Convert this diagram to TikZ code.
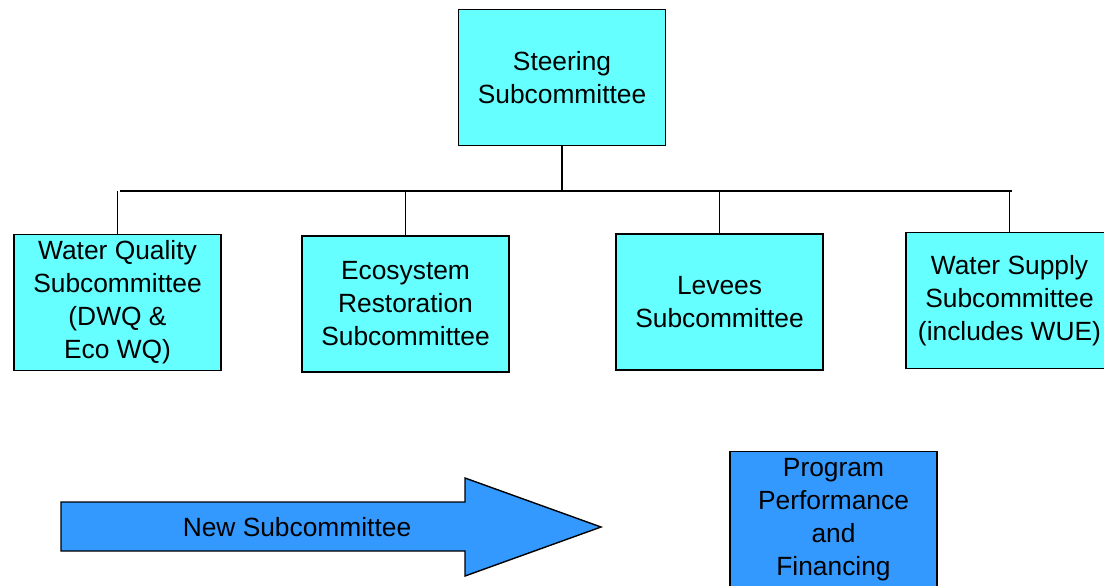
\documentclass[tikz,border=0pt]{standalone}
\usepackage{fontspec}
\setmainfont{Liberation Sans}
\usepackage{tikz}
\usetikzlibrary{positioning}

\definecolor{boxcyan}{HTML}{66FFFF}
\definecolor{boxblue}{HTML}{3399FF}

\tikzset{
  subbox/.style={draw=black, line width=0.8pt, fill=boxcyan, align=center,
    minimum width=4.14cm, minimum height=2.72cm, inner sep=0pt,
    font=\fontsize{15}{18.8}\selectfont},
  newbox/.style={subbox, fill=boxblue},
}

\begin{document}
\begin{tikzpicture}[x=0.02cm, y=-0.02cm]
  \useasboundingbox (0,0) rectangle (1104,585);
  \node [subbox] (steer) at (562,77.5) {Steering\\Subcommittee};
  \node [subbox] (wq) at (117.5,302.5) {Water Quality\\Subcommittee\\(DWQ \&\\Eco WQ)};
  \node [subbox] (eco) at (405.5,304) {Ecosystem\\Restoration\\Subcommittee};
  \node [subbox] (lev) at (719.5,302) {Levees\\Subcommittee};
  \node [subbox] (ws) at (1009.5,300.5) {Water Supply\\Subcommittee\\(includes WUE)};
  \coordinate (busL) at (120,191);
  \coordinate (busR) at (1012,191);
  \draw [line width=0.8pt] (busL) -- (busR);
  \draw [line width=0.8pt] (steer.south) -- (steer.south |- busL);
  \draw [line width=0.8pt] (wq.north) -- (wq.north |- busL);
  \draw [line width=0.8pt] (eco.north) -- (eco.north |- busL);
  \draw [line width=0.8pt] (lev.north) -- (lev.north |- busL);
  \draw [line width=0.8pt] (ws.north) -- (ws.north |- busL);
  \draw [line width=0.8pt, fill=boxblue] (61,502) -- (465,502) -- (465,478) -- (601,527)
    -- (465,576) -- (465,551) -- (61,551) -- cycle;
  \node [font=\fontsize{15}{18.8}\selectfont] (newsub) at (297,527) {New Subcommittee};
  \node [newbox] (ppf) at (833.5,519.5) {Program\\Performance\\and\\Financing};
\end{tikzpicture}
\end{document}
